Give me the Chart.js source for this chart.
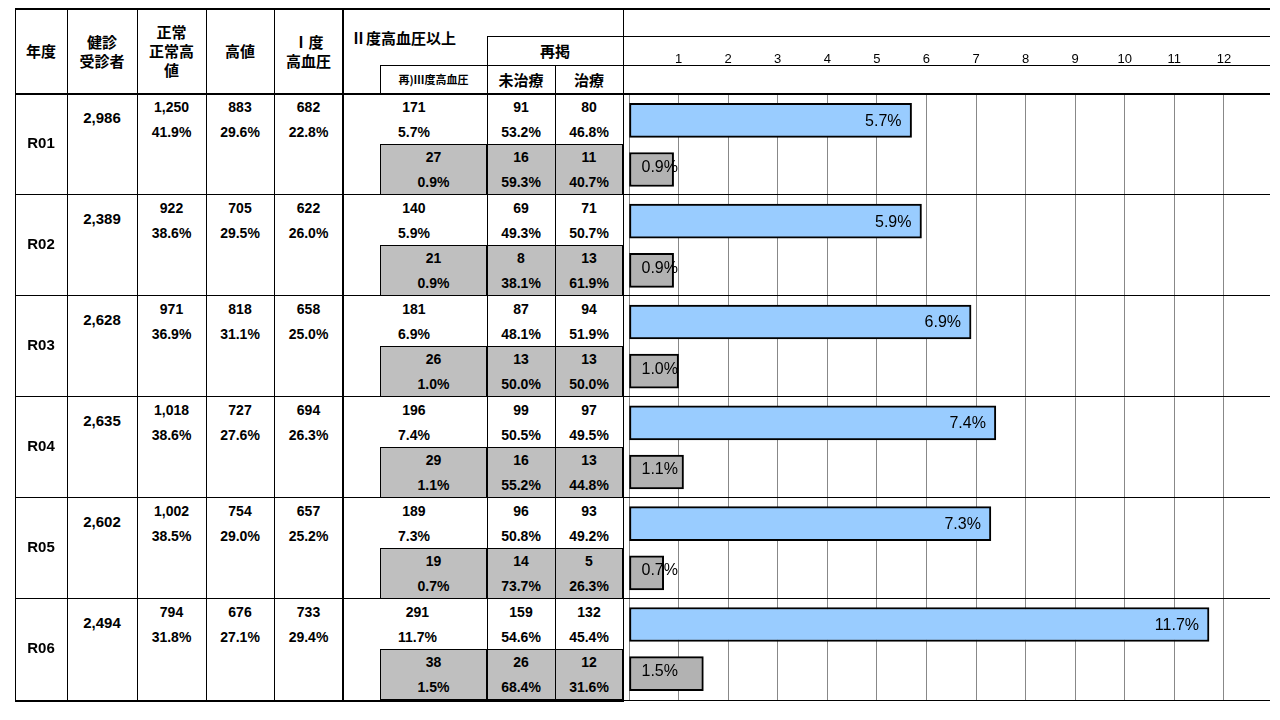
<!DOCTYPE html>
<html><head><meta charset="utf-8">
<script src="https://cdn.jsdelivr.net/npm/chart.js"></script>
<style>
body{margin:0;width:1280px;height:720px;background:#fff;position:relative;overflow:hidden;font-family:"Liberation Sans","Noto Sans CJK JP",sans-serif;font-weight:bold;color:#000}
.b{position:absolute;box-sizing:border-box;display:flex;flex-direction:column;align-items:center;justify-content:center;text-align:center;font-size:14px;line-height:25px}
.j{font-family:"Noto Sans CJK JP",sans-serif;font-weight:bold;line-height:19px;font-size:15px}
.hl{position:absolute;background:#000;height:1px}
.vl{position:absolute;background:#000;width:1px}
#wrap{position:absolute;left:629px;top:45px;width:641px;height:655px}
</style></head><body>
<div id="wrap"><canvas id="c" width="641" height="655"></canvas></div>
<script>
const years=["R01","R02","R03","R04","R05","R06"];
const examinees=["2,986","2,389","2,628","2,635","2,602","2,494"];
const normal=[["1,250","41.9%"],["922","38.6%"],["971","36.9%"],["1,018","38.6%"],["1,002","38.5%"],["794","31.8%"]];
const highNormal=[["883","29.6%"],["705","29.5%"],["818","31.1%"],["727","27.6%"],["754","29.0%"],["676","27.1%"]];
const grade1=[["682","22.8%"],["622","26.0%"],["658","25.0%"],["694","26.3%"],["657","25.2%"],["733","29.4%"]];
const grade2=[["171","5.7%"],["140","5.9%"],["181","6.9%"],["196","7.4%"],["189","7.3%"],["291","11.7%"]];
const grade2Untreated=[["91","53.2%"],["69","49.3%"],["87","48.1%"],["99","50.5%"],["96","50.8%"],["159","54.6%"]];
const grade2Treated=[["80","46.8%"],["71","50.7%"],["94","51.9%"],["97","49.5%"],["93","49.2%"],["132","45.4%"]];
const grade3=[["27","0.9%"],["21","0.9%"],["26","1.0%"],["29","1.1%"],["19","0.7%"],["38","1.5%"]];
const grade3Untreated=[["16","59.3%"],["8","38.1%"],["13","50.0%"],["16","55.2%"],["14","73.7%"],["26","68.4%"]];
const grade3Treated=[["11","40.7%"],["13","61.9%"],["13","50.0%"],["13","44.8%"],["5","26.3%"],["12","31.6%"]];
const grade2Pct=[5.7,5.9,6.9,7.4,7.3,11.7];
const grade3Pct=[0.9,0.9,1.0,1.1,0.7,1.5];
const axisTicks=[1,2,3,4,5,6,7,8,9,10,11,12];

function box(x,y,w,h,html,cls,style){const d=document.createElement('div');d.className='b '+(cls||'');
d.style.cssText=`left:${x}px;top:${y}px;width:${w}px;height:${h}px;`+(style||'');d.innerHTML=html;document.body.appendChild(d);return d;}
function hl(x,y,w,t){const d=document.createElement('div');d.className='hl';d.style.cssText=`left:${x}px;top:${y}px;width:${w}px;height:${t||1}px`;document.body.appendChild(d);}
function vl(x,y,h,t){const d=document.createElement('div');d.className='vl';d.style.cssText=`left:${x}px;top:${y}px;height:${h}px;width:${t||1}px`;document.body.appendChild(d);}
// header
box(15,8,52,85,'年度','j');
box(67,8,70,85,'健診<br>受診者','j');
box(137,8,69,85,'正常<br>正常高<br>値','j');
box(206,8,68,85,'高値','j');
box(274,8,69,85,'Ⅰ度<br>高血圧','j');
box(345,24,140,26,'Ⅱ度高血圧以上','j','align-items:flex-start;padding-left:6px');
box(487,36,136,29,'再掲','j');
box(380,65,107,28,'再)Ⅲ度高血圧','j','font-size:11px');
box(487,65,68,28,'未治療','j');
box(555,65,68,28,'治療','j');
hl(15,8,1255,2);hl(487,36,783);hl(380,65,890);
const rowH=101,top0=93;
for(let i=0;i<6;i++){
 const y=top0+rowH*i;
 hl(15,y,1255,i==0?2:1);
 box(15,y,52,rowH-2,years[i],'','font-size:15px');
 box(67,y+12,70,25,examinees[i],'','font-size:15px');
 [[137,normal],[206,highNormal],[274,grade1]].forEach(([x,a])=>box(x,y+2,x==206?68:69,50,a[i][0]+'<br>'+a[i][1]));
 box(380,y+2,70,50,grade2[i][0]+'<br>'+grade2[i][1],'','align-items:flex-start;padding-left:18px');
 box(487,y+2,68,50,grade2Untreated[i][0]+'<br>'+grade2Untreated[i][1]);
 box(555,y+2,68,50,grade2Treated[i][0]+'<br>'+grade2Treated[i][1]);
 box(380,y+51,107,51,grade3[i][0]+'<br>'+grade3[i][1],'','background:#bfbfbf;border:1px solid #000');
 box(486,y+51,70,51,grade3Untreated[i][0]+'<br>'+grade3Untreated[i][1],'','background:#bfbfbf;border:1px solid #000');
 box(555,y+51,68,51,grade3Treated[i][0]+'<br>'+grade3Treated[i][1],'','background:#bfbfbf;border:1px solid #000');
}
hl(15,700,608,2);hl(623,700,647,1);
vl(15,8,694);vl(67,8,694);vl(137,8,694);vl(206,8,694);vl(274,8,694);vl(342,8,694,2);
vl(487,36,664);vl(555,65,635);vl(623,8,694);
vl(380,65,28);

const blueOff=0.42,grayOff=0.57;
const labelPlugin={id:'lbl',afterDatasetsDraw(ch){const c=ch.ctx;c.save();c.font='16px "Liberation Sans"';c.fillStyle='#000';c.textBaseline='middle';
 ch.getDatasetMeta(0).data.forEach((b,i)=>{c.textAlign='right';c.fillText(grade2Pct[i].toFixed(1)+'%',b.x-10,b.y+1);});
 ch.getDatasetMeta(1).data.forEach((b,i)=>{c.textAlign='left';c.fillText(grade3Pct[i].toFixed(1)+'%',b.base+12,b.y-2);});
 c.restore();}};
new Chart(document.getElementById('c'),{type:'bar',
 data:{datasets:[
  {data:grade2Pct.map((v,i)=>({x:v,y:i+blueOff})),backgroundColor:'#99CCFF',borderColor:'#000',borderWidth:2,borderSkipped:false,barThickness:34},
  {data:grade3Pct.map((v,i)=>({x:v,y:i+grayOff})),backgroundColor:'#B2B2B2',borderColor:'#000',borderWidth:2,borderSkipped:false,barThickness:34}]},
 options:{indexAxis:'y',responsive:false,devicePixelRatio:1,animation:false,
  plugins:{legend:{display:false},tooltip:{enabled:false}},layout:{padding:0},
  scales:{
   x:{type:'linear',position:'top',min:0,max:12.93,
    afterBuildTicks:s=>{s.ticks=[{value:0}].concat(axisTicks.map(v=>({value:v})));},
    afterFit:s=>{s.height=50;s.paddingLeft=0;s.paddingRight=0;},
    ticks:{padding:28,font:{family:'"Liberation Sans"',size:13,weight:'normal'},color:'#000',callback:v=>v==0?'':v},
    grid:{color:'#888',lineWidth:1,drawTicks:false},border:{display:false}},
   y:{type:'linear',min:0,max:6,reverse:true,offset:false,display:false}}},
 plugins:[labelPlugin]});
</script></body></html>
